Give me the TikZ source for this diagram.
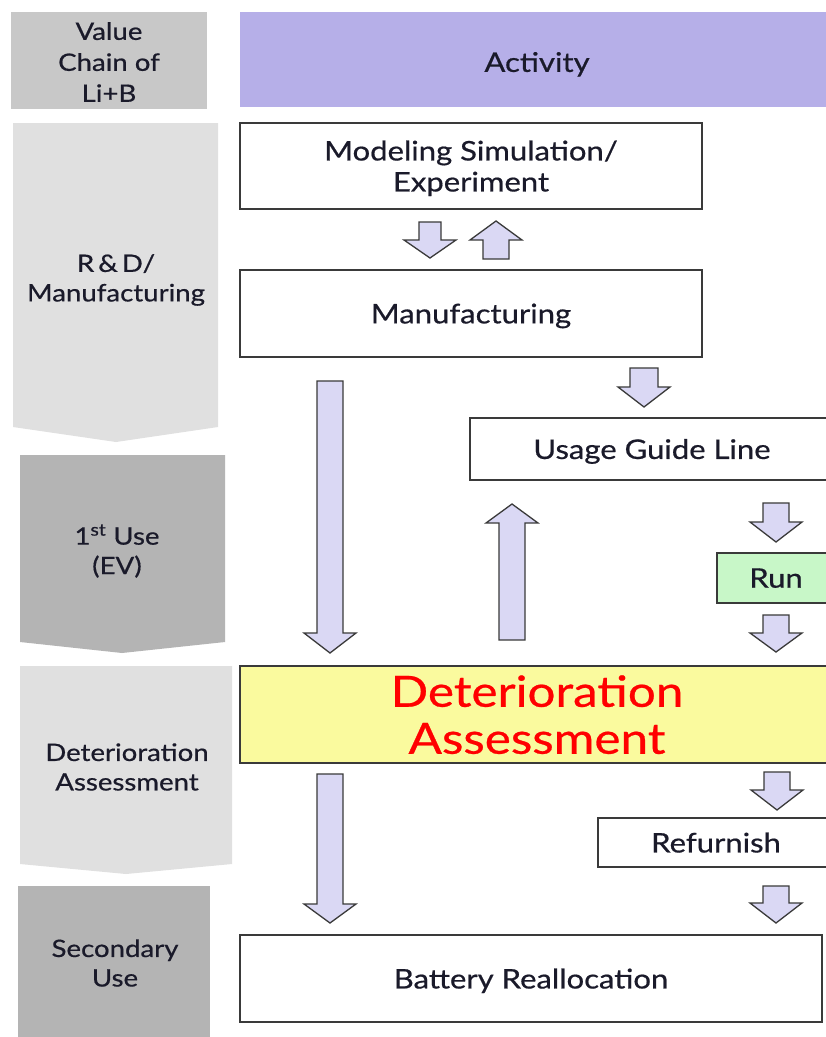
\documentclass[tikz,border=0pt]{standalone}
\usepackage{fontspec}
\setmainfont{Lato}[FakeStretch=1.15, FakeBold=0.6]
\definecolor{hdrgray}{HTML}{C8C8C8}
\definecolor{palegray}{HTML}{E0E0E0}
\definecolor{midgray}{HTML}{B4B4B4}
\definecolor{lav}{HTML}{B6AFE8}
\definecolor{arrowfill}{HTML}{DAD8F4}
\definecolor{yel}{HTML}{FAFA9E}
\definecolor{grn}{HTML}{C8F7C8}
\definecolor{edgecol}{HTML}{3A3A3A}
\definecolor{inkcol}{HTML}{1A1A2A}
\newcommand\fatarrow[6]{% center x, start y, head base y, tip y, body half, head half
  \draw[fatstyle] (#1-#5,#2) -- (#1+#5,#2) -- (#1+#5,#3) -- (#1+#6,#3) -- (#1,#4) -- (#1-#6,#3) -- (#1-#5,#3) -- cycle;}
\begin{document}
\begin{tikzpicture}[x=1pt,y=-1pt,
  fatstyle/.style={draw=edgecol, line width=1.3pt, fill=arrowfill, line join=miter},
  actbox/.style={draw=edgecol, line width=1.4pt, fill=white, inner sep=0pt, align=center,
     text=inkcol, text depth=0pt, font=\fontsize{27}{31}\selectfont},
  lefttext/.style={align=center, text=inkcol, font=\fontsize{24}{29.5}\selectfont, inner sep=0pt}]
\useasboundingbox (0,0) rectangle (826,1037);
\fill[white] (0,0) rectangle (826,1037);
% left column
\fill[hdrgray] (11,12) rectangle (207,109);
\node[lefttext, font=\fontsize{24}{31}\selectfont] (vc) at (109,62) {Value\\Chain of\\Li+B};
\fill[palegray] (13,123) -- (218,123) -- (218,427) -- (116,442) -- (13,427) -- cycle;
\node[lefttext] (rd) at (116,280) {R\,\&\,D/\\Manufacturing};
\fill[midgray] (20,455) -- (225,455) -- (225,642) -- (122,653) -- (20,642) -- cycle;
\node[lefttext] (fu) at (117,551) {1\textsuperscript{st} Use\\(EV)};
\fill[palegray] (20,666) -- (232,666) -- (232,864) -- (126,874) -- (20,864) -- cycle;
\node[lefttext] (da) at (127,767) {Deterioration\\Assessment};
\fill[midgray] (18,886) rectangle (210,1037);
\node[lefttext] (su) at (115,963) {Secondary\\Use};
% header
\fill[lav] (240,12) rectangle (840,107);
\node[text=inkcol, text depth=0pt, font=\fontsize{27}{31}\selectfont] (act) at (537,62) {Activity};
% activity boxes
\node[actbox, minimum width=462pt, minimum height=86pt] (model) at (471,166) {Modeling Simulation/\\Experiment};
\node[actbox, minimum width=462pt, minimum height=87pt] (manu) at (471,313.5) {Manufacturing};
\node[actbox, minimum width=364pt, minimum height=62pt] (usage) at (652,449) {Usage Guide Line};
\node[actbox, fill=grn, minimum width=118pt, minimum height=50pt] (run) at (776,578) {Run};
\node[actbox, fill=yel, minimum width=594pt, minimum height=97pt, text=red,
      font=\fontsize{43}{47}\selectfont] (det) at (537,714.5) {Deterioration\\Assessment};
\node[actbox, minimum width=236pt, minimum height=49pt] (ref) at (716,842.5) {Refurnish};
\node[actbox, minimum width=582pt, minimum height=87pt] (batt) at (531,978.5) {Battery Reallocation};
% block arrows
\fatarrow{430}{222}{240}{258}{11}{26}
\fatarrow{496}{259}{240}{221}{13}{26}
\fatarrow{644}{368}{387}{407}{14}{26}
\fatarrow{512}{640}{523}{504}{13}{26}
\fatarrow{776}{503}{522}{542}{13}{26}
\fatarrow{776}{615}{633}{652}{13}{26}
\fatarrow{330}{381}{633}{653}{13}{26}
\fatarrow{330}{774}{904}{923}{13}{26}
\fatarrow{777}{772}{790}{810}{13}{26}
\fatarrow{776}{886}{903}{923}{13}{26}
\end{tikzpicture}
\end{document}
